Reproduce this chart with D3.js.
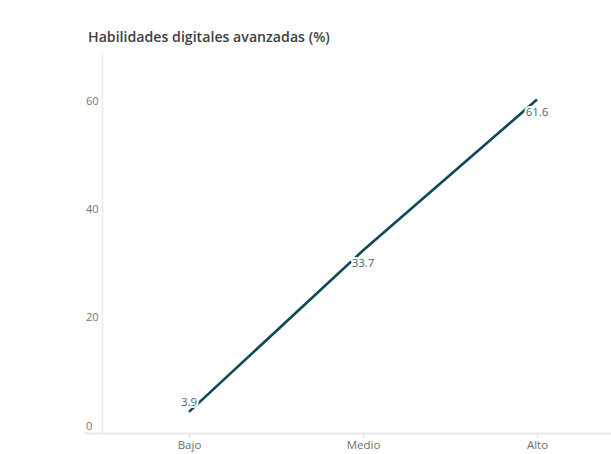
<!DOCTYPE html>
<html>
<head>
<meta charset="utf-8">
<script src="https://cdn.jsdelivr.net/npm/d3@7"></script>
<style>
  html, body { margin: 0; padding: 0; background: #ffffff; }
  svg { display: block; }
  text { font-family: "Open Sans", Lato, sans-serif; }
</style>
</head>
<body>
<svg id="chart" width="611" height="454"></svg>
<script>
const title = "Habilidades digitales avanzadas (%)";
const categories = ["Bajo", "Medio", "Alto"];
const values = [3.9, 33.7, 61.6];
const yTicks = [0, 20, 40, 60];

const svg = d3.select("#chart");
const W = 611, H = 454;

const x = d3.scalePoint().domain(categories).range([102, 624]).padding(0.5);
const y = d3.scaleLinear().domain([0, 70]).range([433, 54]);

// title
const t = svg.append("text")
  .attr("x", 88).attr("y", 42)
  .attr("font-size", 13).attr("font-weight", 600)
  .attr("fill", "#404040")
  .text(title);
const tw = t.node().getComputedTextLength();
t.attr("font-size", 13 * 242 / tw);

// y axis line
svg.append("line")
  .attr("x1", 102.5).attr("x2", 102.5)
  .attr("y1", y(70)).attr("y2", y(0))
  .attr("stroke", "#ececec").attr("stroke-width", 1.5);

// y tick labels (left aligned, above their value)
svg.append("g").selectAll("text").data(yTicks).join("text")
  .attr("x", 86).attr("y", d => y(d) - 3.5)
  .attr("font-size", 11).attr("fill", "#747474")
  .text(d => d);

// x axis via d3.axisBottom
const xAxis = svg.append("g")
  .attr("transform", `translate(0,${y(0)})`)
  .call(d3.axisBottom(x).tickSize(5).tickPadding(3));
xAxis.select(".domain").remove();
xAxis.selectAll(".tick line").attr("stroke", "#e2e2e2").attr("stroke-width", 1.2);
xAxis.selectAll(".tick text")
  .attr("font-family", "'Open Sans', Lato, sans-serif")
  .attr("font-size", 11.5).attr("fill", "#6e6e6e");
svg.append("line")
  .attr("x1", 85).attr("x2", W)
  .attr("y1", y(0) + 0.5).attr("y2", y(0) + 0.5)
  .attr("stroke", "#e8e8e8").attr("stroke-width", 2);

// line
const data = categories.map((c, i) => ({c, v: values[i]}));
svg.append("path")
  .datum(data)
  .attr("fill", "none")
  .attr("stroke", "#0d4a58")
  .attr("stroke-width", 2.6)
  .attr("d", d3.line().x(d => x(d.c)).y(d => y(d.v)));

// value labels with white halo
svg.append("g").selectAll("text").data(data).join("text")
  .attr("x", d => x(d.c))
  .attr("y", d => d.v < 10 ? y(d.v) - 10 : y(d.v) + 12)
  .attr("dy", "0.35em")
  .attr("text-anchor", "middle")
  .attr("font-size", 11.5)
  .attr("font-weight", 500)
  .attr("fill", "#3d6a78")
  .attr("stroke", "#ffffff")
  .attr("stroke-width", 4)
  .attr("stroke-linejoin", "round")
  .attr("paint-order", "stroke")
  .text(d => d.v.toFixed(1));
</script>
</body>
</html>
